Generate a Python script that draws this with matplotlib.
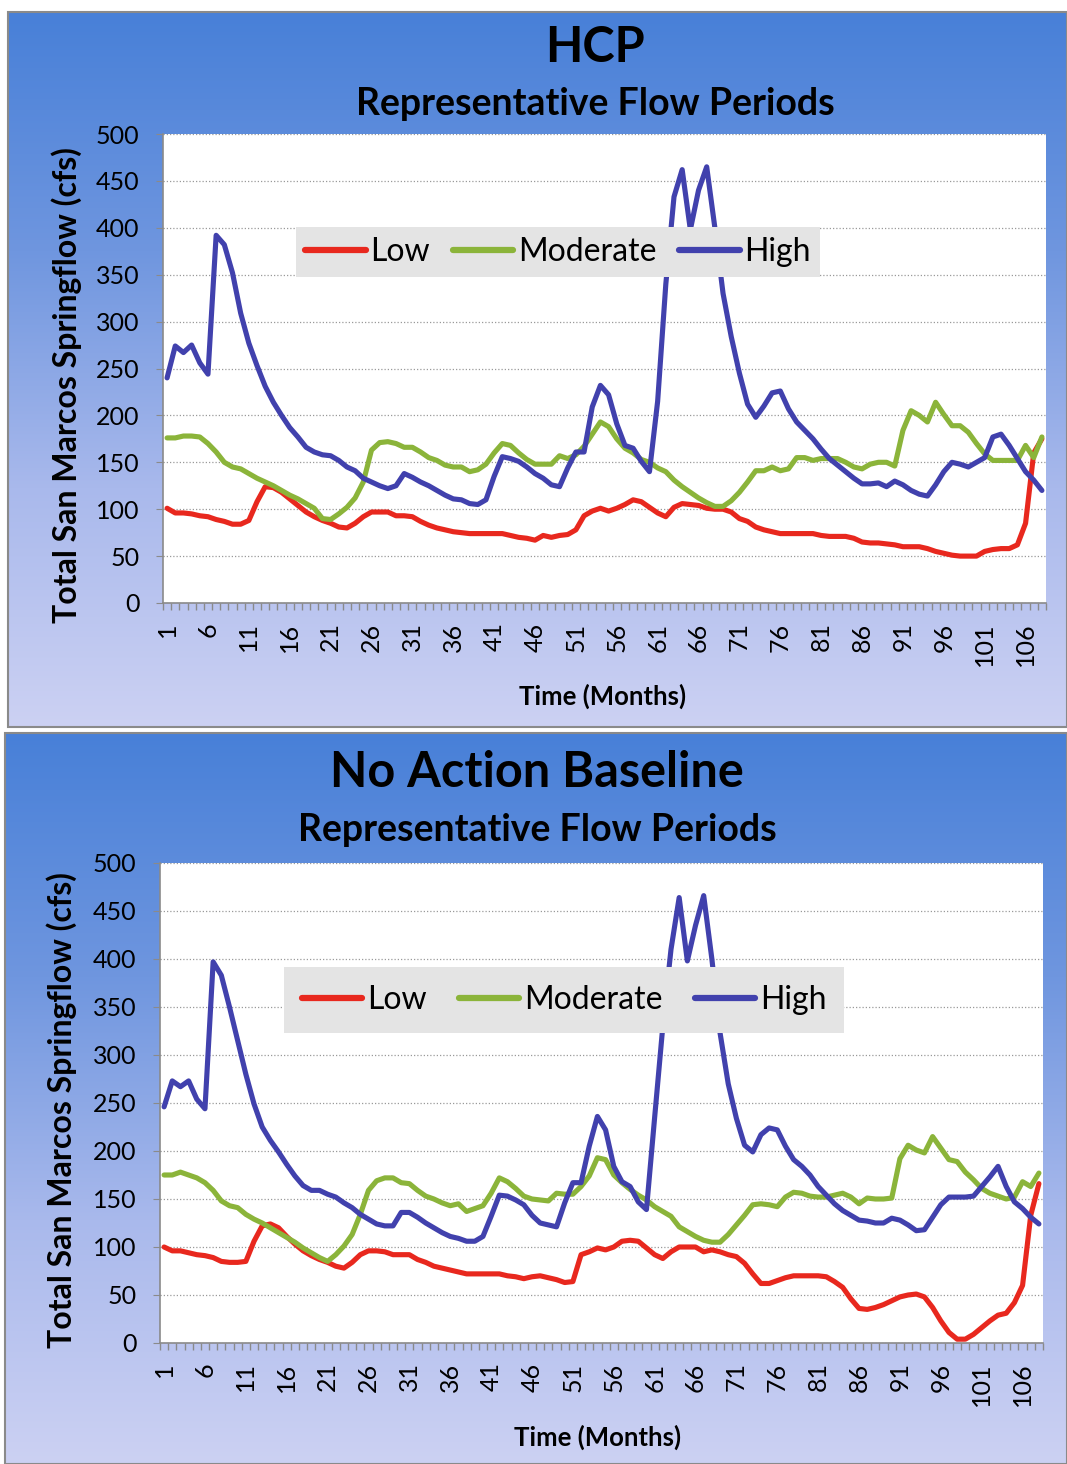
import numpy as np
import matplotlib
matplotlib.use("Agg")
import matplotlib.pyplot as plt
from matplotlib.colors import LinearSegmentedColormap
from matplotlib.patches import Rectangle

plt.rcParams['font.family'] = ['Lato', 'DejaVu Sans']

# ---- data ----
months = list(range(1, 109))

hcp_low = [101, 96, 96, 95, 93, 92, 89, 87, 84, 84,
           88, 108, 124, 123, 118, 111, 104, 97, 92, 88,
           85, 81, 80, 85, 92, 97, 97, 97, 93, 93,
           92, 87, 83, 80, 78, 76, 75, 74, 74, 74,
           74, 74, 72, 70, 69, 67, 72, 70, 72, 73,
           78, 93, 98, 101, 98, 101, 105, 110, 108, 102,
           96, 92, 102, 106, 105, 104, 101, 100, 100, 97,
           90, 87, 81, 78, 76, 74, 74, 74, 74, 74,
           72, 71, 71, 71, 69, 65, 64, 64, 63, 62,
           60, 60, 60, 58, 55, 53, 51, 50, 50, 50,
           55, 57, 58, 58, 62, 85, 160, 175]
hcp_moderate = [176, 176, 178, 178, 177, 170, 161, 150, 145, 143,
                138, 133, 129, 125, 120, 115, 111, 106, 101, 90,
                89, 95, 102, 112, 129, 163, 171, 172, 170, 166,
                166, 161, 155, 152, 147, 145, 145, 140, 142, 148,
                160, 170, 168, 160, 153, 148, 148, 148, 157, 154,
                158, 167, 180, 193, 188, 175, 165, 160, 153, 150,
                144, 140, 131, 124, 118, 112, 107, 103, 103, 109,
                118, 129, 141, 141, 145, 141, 143, 155, 155, 152,
                154, 154, 154, 150, 145, 143, 148, 150, 150, 146,
                184, 205, 200, 193, 214, 201, 189, 189, 182, 170,
                159, 152, 152, 152, 152, 168, 155, 177]
hcp_high = [240, 274, 267, 275, 256, 244, 392, 382, 352, 309,
            277, 253, 231, 214, 200, 187, 177, 166, 161, 158,
            157, 152, 145, 141, 133, 129, 125, 122, 125, 138,
            134, 129, 125, 120, 115, 111, 110, 106, 105, 110,
            135, 156, 154, 151, 145, 138, 133, 126, 124, 144,
            161, 161, 209, 232, 222, 191, 168, 165, 151, 140,
            215, 340, 433, 462, 398, 440, 465, 400, 330, 284,
            245, 212, 198, 210, 224, 226, 207, 193, 184, 175,
            164, 154, 147, 140, 133, 127, 127, 128, 124, 130,
            126, 120, 116, 114, 126, 140, 150, 148, 145, 150,
            155, 177, 180, 168, 154, 140, 131, 120]

nab_low = [100, 96, 96, 94, 92, 91, 89, 85, 84, 84,
           85, 106, 122, 124, 120, 111, 103, 96, 91, 87,
           84, 80, 78, 84, 92, 96, 96, 95, 92, 92,
           92, 87, 84, 80, 78, 76, 74, 72, 72, 72,
           72, 72, 70, 69, 67, 69, 70, 68, 66, 63,
           64, 92, 95, 99, 97, 100, 106, 107, 106, 99,
           92, 88, 95, 100, 100, 100, 95, 97, 95, 92,
           90, 83, 72, 62, 62, 65, 68, 70, 70, 70,
           70, 69, 64, 58, 46, 36, 35, 37, 40, 44,
           48, 50, 51, 48, 37, 23, 11, 4, 4, 9,
           16, 23, 29, 31, 42, 60, 133, 166]
nab_moderate = [175, 175, 178, 175, 172, 167, 159, 148, 143, 141,
                134, 129, 125, 120, 115, 110, 105, 99, 94, 89,
                85, 92, 101, 113, 134, 159, 169, 172, 172, 167,
                166, 159, 153, 150, 146, 143, 145, 137, 140, 143,
                156, 172, 168, 161, 153, 150, 149, 148, 156, 155,
                155, 163, 174, 193, 191, 175, 167, 160, 154, 149,
                142, 137, 132, 121, 116, 111, 107, 105, 105, 113,
                123, 133, 144, 145, 144, 142, 152, 157, 156, 153,
                152, 152, 154, 156, 152, 145, 151, 150, 150, 151,
                192, 206, 201, 198, 215, 203, 191, 189, 178, 170,
                161, 156, 153, 150, 152, 168, 163, 177]
nab_high = [246, 273, 267, 273, 254, 244, 397, 383, 350, 315,
            280, 249, 225, 211, 199, 186, 174, 164, 159, 159,
            155, 152, 146, 141, 134, 129, 124, 122, 122, 136,
            136, 131, 125, 120, 115, 111, 109, 106, 106, 111,
            132, 154, 153, 149, 144, 133, 125, 123, 121, 146,
            167, 167, 205, 236, 222, 184, 168, 163, 147, 139,
            235, 330, 410, 464, 398, 435, 466, 400, 323, 270,
            234, 206, 199, 217, 224, 222, 205, 191, 184, 175,
            163, 154, 145, 138, 133, 128, 127, 125, 125, 130,
            128, 123, 117, 118, 131, 144, 152, 152, 152, 153,
            163, 173, 184, 163, 147, 140, 131, 124]

series_names = ['Low', 'Moderate', 'High']
series_colors = ['#e8281e', '#8bb43a', '#4141ad']
y_ticks = list(range(0, 501, 50))
x_tick_months = list(range(1, 109, 5))

W, H = 1067, 1464
fig = plt.figure(figsize=(W / 100, H / 100), dpi=100)

def fx(x):
    return x / W

def fy(y):
    return 1 - y / H

# background panels with gradient
bg = fig.add_axes([0, 0, 1, 1], zorder=0)
bg.set_xlim(0, W)
bg.set_ylim(H, 0)
bg.axis('off')
cm = LinearSegmentedColormap.from_list('bg', ['#4880d8', '#6f96df', '#a9b9ec', '#ccd1f3'])
grad = np.linspace(0, 1, 256)[:, None]
for (x0, y0, x1, y1) in [(8, 12, 1067, 727), (5, 733, 1067, 1464)]:
    bg.imshow(grad, extent=(x0, x1, y1, y0), cmap=cm, aspect='auto')
    bg.add_patch(Rectangle((x0, y0), x1 - x0, y1 - y0, fill=False,
                           edgecolor='#8a8a8a', lw=1.5))

panels = [
    dict(title='HCP', data=[hcp_low, hcp_moderate, hcp_high],
         ax_px=(163, 134, 1046, 603), tx=595, ty=47, sy=104,
         ylab=(67, 385), xlab=(603, 696),
         leg=(558, 252), leg_pad=0.3, leg_col=0.7),
    dict(title='No Action Baseline', data=[nab_low, nab_moderate, nab_high],
         ax_px=(160, 863, 1043, 1343), tx=537, ty=773, sy=830,
         ylab=(62, 1110), xlab=(598, 1437),
         leg=(564, 1000), leg_pad=0.55, leg_col=1.0),
]

for p in panels:
    l, t, r, b = p['ax_px']
    ax = fig.add_axes([fx(l), fy(b), (r - l) / W, (b - t) / H], zorder=1)
    ax.set_facecolor('white')
    for name, vals, col in zip(series_names, p['data'], series_colors):
        ax.plot(months, vals, color=col, lw=3.7, label=name,
                solid_joinstyle='round', solid_capstyle='round')
    ax.set_xlim(0.5, 108.5)
    ax.set_ylim(0, 500)
    ax.set_yticks(y_ticks)
    ax.set_xticks(x_tick_months)
    ax.set_xticklabels([str(m) for m in x_tick_months], rotation=90, va='top')
    ax.set_xticks(np.arange(0.5, 109, 1), minor=True)
    ax.tick_params(axis='x', which='major', length=0, pad=14, labelsize=18)
    ax.tick_params(axis='x', which='minor', length=5, color='#8a8a8a', width=1)
    ax.tick_params(axis='y', length=5, color='#8a8a8a', pad=12, labelsize=18)
    ax.grid(axis='y', color='#9a9a9a', lw=0.9, ls=(0, (1, 1.6)))
    ax.set_axisbelow(True)
    for s in ['top', 'right']:
        ax.spines[s].set_visible(False)
    for s in ['left', 'bottom']:
        ax.spines[s].set_color('#8a8a8a')
        ax.spines[s].set_linewidth(1.2)

    leg = ax.legend(loc='center', ncol=3, bbox_to_anchor=(fx(p['leg'][0]), fy(p['leg'][1])),
                    bbox_transform=fig.transFigure, fontsize=23, frameon=True,
                    fancybox=False, facecolor='#e4e4e4', edgecolor='none', framealpha=1,
                    handlelength=1.9, handletextpad=0.15, columnspacing=p['leg_col'],
                    borderpad=p['leg_pad'])
    for h in leg.get_lines():
        h.set_linewidth(4.5)

    fig.text(fx(p['tx']), fy(p['ty']), p['title'], ha='center', va='center',
             fontsize=35, fontweight='bold')
    fig.text(fx(p['tx']), fy(p['sy']), 'Representative Flow Periods', ha='center',
             va='center', fontsize=27, fontweight='bold')
    fig.text(fx(p['ylab'][0]), fy(p['ylab'][1]), 'Total San Marcos Springflow (cfs)',
             rotation=90, ha='center', va='center', fontsize=23, fontweight='bold')
    fig.text(fx(p['xlab'][0]), fy(p['xlab'][1]), 'Time (Months)', ha='center',
             va='center', fontsize=18.5, fontweight='bold')

fig.savefig('out.png', dpi=100, facecolor='white')
